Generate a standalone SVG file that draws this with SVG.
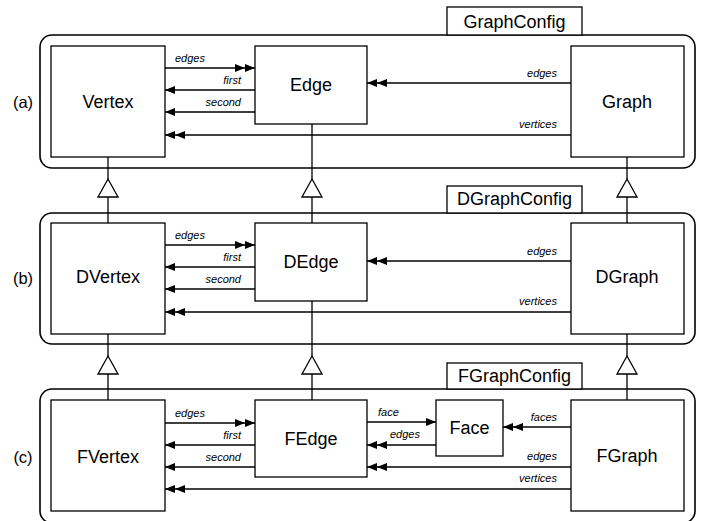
<svg xmlns="http://www.w3.org/2000/svg" width="703" height="521" viewBox="0 0 703 521">
<style>
.box{fill:#fff;stroke:#000;stroke-width:1.3}
.outer{fill:none;stroke:#000;stroke-width:1.6}
.tab{fill:#fff;stroke:#000;stroke-width:1.3}
.ln{fill:none;stroke:#000;stroke-width:1.3}
.tri{fill:#fff;stroke:#000;stroke-width:1.3}
.nl{font-family:"Liberation Sans",Arial,sans-serif;font-size:18px;text-anchor:middle;fill:#000}
.el{font-family:"Liberation Sans",Arial,sans-serif;font-size:11px;font-style:italic;fill:#000}
.e{text-anchor:end}
.side{font-family:"Liberation Sans",Arial,sans-serif;font-size:16.5px;text-anchor:middle;fill:#000}
</style>
<defs>
<marker id="a1" viewBox="0 0 10 8" refX="10" refY="4" markerWidth="10" markerHeight="8" markerUnits="userSpaceOnUse" orient="auto"><path d="M0,0 L10,4 L0,8 z" fill="#000"/></marker>
<marker id="a2" viewBox="0 0 20 8" refX="20" refY="4" markerWidth="20" markerHeight="8" markerUnits="userSpaceOnUse" orient="auto"><path d="M0,0 L10,4 L0,8 z M10,0 L20,4 L10,8 z" fill="#000"/></marker>
</defs>
<g id="containers">
<rect class="outer" x="40" y="35" width="655" height="133" rx="12"/>
<rect class="tab" x="447" y="7" width="135" height="28"/>
<text class="nl" x="514.5" y="28">GraphConfig</text>
<text class="side" x="23" y="108">(a)</text>
<rect class="outer" x="40" y="213" width="655" height="131" rx="12"/>
<rect class="tab" x="447" y="186" width="135" height="27"/>
<text class="nl" x="514.5" y="205">DGraphConfig</text>
<text class="side" x="23" y="284">(b)</text>
<rect class="outer" x="40" y="389" width="655" height="134" rx="12"/>
<rect class="tab" x="447" y="363" width="135" height="26"/>
<text class="nl" x="514.5" y="382">FGraphConfig</text>
<text class="side" x="23" y="463">(c)</text>
</g>
<g id="connectors">
<!-- inheritance a-b -->
<path class="ln" d="M108,157 V179 M108,197 V223 M312,124 V179 M312,197 V223 M627,157 V179 M627,197 V223"/>
<path class="tri" d="M108,179 L118,197 L98,197 z M312,179 L322,197 L302,197 z M627,179 L637,197 L617,197 z"/>
<!-- inheritance b-c -->
<path class="ln" d="M108,334 V356 M108,374 V400 M312,301 V356 M312,374 V400 M627,334 V356 M627,374 V400"/>
<path class="tri" d="M108,356 L118,374 L98,374 z M312,356 L322,374 L302,374 z M627,356 L637,374 L617,374 z"/>
<!-- (a) -->
<line class="ln" x1="165" y1="68" x2="255" y2="68" marker-end="url(#a2)"/>
<line class="ln" x1="255" y1="90" x2="165" y2="90" marker-end="url(#a1)"/>
<line class="ln" x1="255" y1="112" x2="165" y2="112" marker-end="url(#a1)"/>
<line class="ln" x1="571" y1="83" x2="367" y2="83" marker-end="url(#a2)"/>
<line class="ln" x1="571" y1="135" x2="165" y2="135" marker-end="url(#a2)"/>
<text class="el" x="175" y="62">edges</text>
<text class="el e" x="241" y="84">first</text>
<text class="el e" x="241" y="106">second</text>
<text class="el e" x="557" y="77">edges</text>
<text class="el e" x="557" y="128">vertices</text>
<!-- (b) -->
<line class="ln" x1="165" y1="245" x2="255" y2="245" marker-end="url(#a2)"/>
<line class="ln" x1="255" y1="267" x2="165" y2="267" marker-end="url(#a1)"/>
<line class="ln" x1="255" y1="289" x2="165" y2="289" marker-end="url(#a1)"/>
<line class="ln" x1="571" y1="261" x2="367" y2="261" marker-end="url(#a2)"/>
<line class="ln" x1="571" y1="312" x2="165" y2="312" marker-end="url(#a2)"/>
<text class="el" x="175" y="239">edges</text>
<text class="el e" x="241" y="261">first</text>
<text class="el e" x="241" y="283">second</text>
<text class="el e" x="557" y="255">edges</text>
<text class="el e" x="557" y="305">vertices</text>
<!-- (c) -->
<line class="ln" x1="165" y1="423" x2="255" y2="423" marker-end="url(#a2)"/>
<line class="ln" x1="255" y1="445" x2="165" y2="445" marker-end="url(#a1)"/>
<line class="ln" x1="255" y1="467" x2="165" y2="467" marker-end="url(#a1)"/>
<line class="ln" x1="367" y1="422" x2="436" y2="422" marker-end="url(#a1)"/>
<line class="ln" x1="436" y1="445" x2="367" y2="445" marker-end="url(#a2)"/>
<line class="ln" x1="571" y1="427" x2="503" y2="427" marker-end="url(#a2)"/>
<line class="ln" x1="571" y1="467" x2="367" y2="467" marker-end="url(#a2)"/>
<line class="ln" x1="571" y1="489" x2="165" y2="489" marker-end="url(#a2)"/>
<text class="el" x="175" y="417">edges</text>
<text class="el e" x="241" y="439">first</text>
<text class="el e" x="241" y="461">second</text>
<text class="el" x="378" y="416">face</text>
<text class="el" x="390" y="438">edges</text>
<text class="el e" x="557" y="421">faces</text>
<text class="el e" x="557" y="460">edges</text>
<text class="el e" x="557" y="482">vertices</text>
</g>
<g id="Vertex"><rect class="box" x="51" y="46" width="114" height="111"/><text class="nl" x="108" y="108">Vertex</text></g>
<g id="Edge"><rect class="box" x="255" y="46" width="112" height="78"/><text class="nl" x="311" y="91">Edge</text></g>
<g id="Graph"><rect class="box" x="571" y="46" width="113" height="111"/><text class="nl" x="627" y="108">Graph</text></g>
<g id="DVertex"><rect class="box" x="51" y="223" width="114" height="111"/><text class="nl" x="108" y="283">DVertex</text></g>
<g id="DEdge"><rect class="box" x="255" y="223" width="112" height="78"/><text class="nl" x="311" y="268">DEdge</text></g>
<g id="DGraph"><rect class="box" x="571" y="223" width="113" height="111"/><text class="nl" x="627" y="283">DGraph</text></g>
<g id="FVertex"><rect class="box" x="51" y="400" width="114" height="111"/><text class="nl" x="108" y="463">FVertex</text></g>
<g id="FEdge"><rect class="box" x="255" y="400" width="112" height="77"/><text class="nl" x="311" y="445">FEdge</text></g>
<g id="Face"><rect class="box" x="436" y="400" width="67" height="56"/><text class="nl" x="469.5" y="434">Face</text></g>
<g id="FGraph"><rect class="box" x="571" y="400" width="113" height="111"/><text class="nl" x="627" y="462">FGraph</text></g>
</svg>
